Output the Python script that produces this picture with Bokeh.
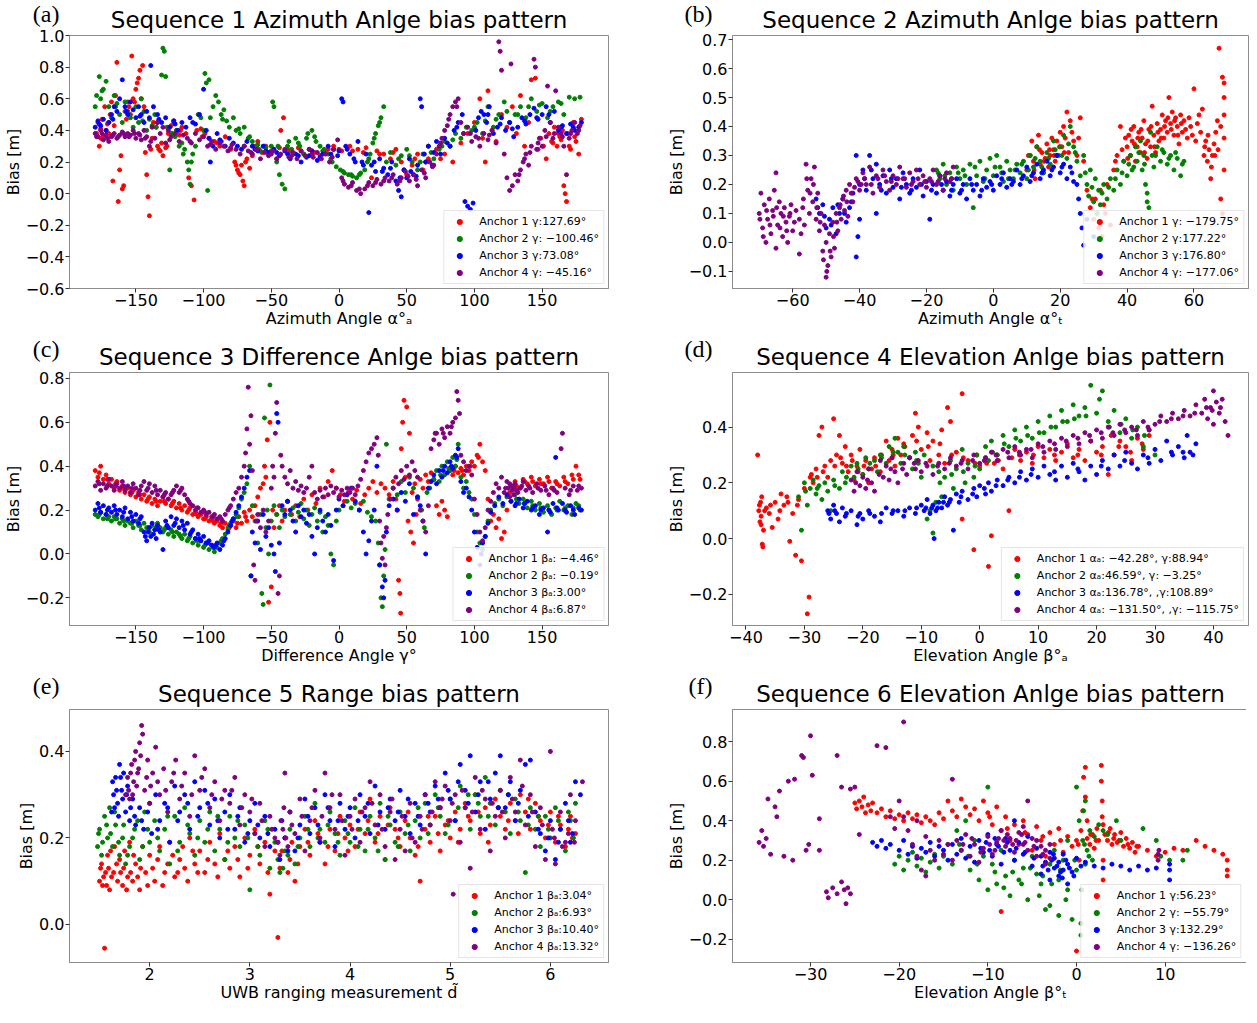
from bokeh.plotting import figure
from bokeh.layouts import gridplot
from bokeh.models import Range1d, Label, Legend, LegendItem, FixedTicker, CustomJSTickFormatter
from bokeh.embed import file_html
from bokeh.resources import INLINE

# ---------------- Panel (a): Sequence 1, azimuth angle ----------------
A_RED = [(-179,.38),(-178,.45),(-177,.30),(-176,.41),(-175,.47),(-174,.36),(-173,.55),(-172,.40),(-171,.44),(-170,.38),(-169,.50),(-168,.58),(-167,.08),(-166,.43),(-165,.62),(-164,.83),(-163,-.05),(-162,.15),(-161,.24),(-160,.03),(-159,.05),(-158,.52),(-157,.47),(-156,.58),(-155,.55),(-154,.50),(-153,.87),(-152,.60),(-151,.58),(-150,.66),(-149,.70),(-148,.73),(-147,.78),(-146,.60),(-145,.81),(-144,.55),(-143,.26),(-142,.12),(-141,-.02),(-140,-.14),(-139,.28),(-137,.45),(-135,.42),(-134,.30),(-132,.27),(-131,.32),(-130,.24),(-128,.29),(-126,.38),(-124,.43),(-122,.46),(-120,.40),(-118,.37),(-116,.42),(-113,.38),(-111,.10),(-109,.05),(-107,-.04),(-105,.40),(-102,.41),(-99,.38),(-96,.35),(-92,.33),(-88,.30),(-84,.36),(-80,.28),(-77,.20),(-75,.15),(-73,.12),(-72,.18),(-71,.08),(-70,.05),(-68,.22),(-66,.16),(-63,.30),(-60,.33),(-57,.26),(-54,.30),(-50,.27),(-46,.22),(-43,.40),(-41,.48),(-38,.28),(-34,.26),(-30,.29),(-26,.25),(-22,.28),(-18,.26),(-14,.24),(-8,.28),(-4,.30),(2,.27),(8,.30),(14,.28),(20,.29),(24,.10),(28,.27),(33,.25),(38,.22),(42,.28),(46,.20),(50,.12),(54,.18),(58,.25),(62,.15),(66,.22),(72,.28),(78,.25),(84,.20),(90,.32),(95,.38),(100,.45),(104,.60),(106,.35),(108,.20),(110,.65),(113,.40),(116,.33),(120,.50),(124,.42),(128,.55),(131,.38),(134,.62),(137,.30),(140,.45),(142,.72),(145,.73),(147,.28),(149,.35),(151,.30),(153,.22),(155,.38),(157,.33),(159,.42),(161,.30),(163,.36),(165,.40),(166,.05),(167,.0),(168,-.05),(169,.38),(171,.28),(173,.45),(175,.33),(177,.25),(179,.47),
         (-176,.35),(-170,.45),(-138,.35),(-133,.28),(-127,.30),(-123,.38),(-117,.40),(-101,.36),(-90,.32),(-76,.18),(-74,.13),(-69,.20),(-64,.24),(-59,.28),(-52,.25),(-44,.29),(-36,.27),(-28,.27),(-20,.27),(-10,.26),(0,.28),(10,.27),(18,.26),(30,.25),(40,.26),(48,.15),(56,.22),(64,.20),(75,.22),(158,.32),(162,.38),(164,.34),(170,.30),(174,.36)]
A_GREEN = [(-180,.55),(-179,.62),(-177,.74),(-176,.60),(-174,.66),(-172,.71),(-170,.55),(-168,.48),(-166,.62),(-164,.57),(-162,.50),(-160,.45),(-158,.58),(-156,.52),(-154,.48),(-152,.42),(-150,.55),(-148,.45),(-146,.60),(-144,.52),(-142,.40),(-140,.47),(-138,.43),(-136,.50),(-134,.45),(-131,.75),(-130,.92),(-129,.90),(-128,.74),(-127,.42),(-125,.15),(-124,.38),(-122,.45),(-120,.40),(-118,.30),(-116,.32),(-114,.28),(-112,.20),(-111,.15),(-110,.06),(-108,.25),(-106,.30),(-104,.50),(-102,.48),(-100,.40),(-99,.76),(-98,.70),(-97,.02),(-96,.72),(-95,.48),(-93,.55),(-91,.62),(-89,.58),(-87,.50),(-85,.53),(-83,.46),(-81,.42),(-78,.48),(-76,.40),(-73,.38),(-70,.42),(-67,.35),(-64,.33),(-61,.30),(-58,.27),(-55,.30),(-52,.25),(-49,.58),(-48,.55),(-46,.20),(-44,.12),(-42,.06),(-40,.03),(-38,.30),(-35,.28),(-32,.35),(-29,.30),(-26,.25),(-23,.38),(-20,.40),(-17,.33),(-14,.30),(-11,.28),(-8,.25),(-5,.20),(-2,.17),(1,.15),(4,.13),(7,.12),(10,.11),(13,.10),(16,.13),(19,.15),(21,.20),(23,.25),(25,.32),(27,.38),(29,.43),(31,.48),(33,.55),(35,.20),(38,.26),(42,.18),(46,.24),(50,.28),(54,.20),(58,.15),(62,.25),(66,.30),(70,.22),(74,.28),(78,.33),(82,.30),(86,.38),(90,.35),(94,.42),(98,.40),(102,.45),(106,.38),(110,.55),(114,.42),(118,.50),(122,.58),(126,.45),(130,.50),(134,.55),(138,.48),(142,.60),(146,.52),(150,.57),(154,.48),(158,.55),(162,.58),(166,.50),(170,.61),(174,.60),(178,.61),
           (-175,.65),(-165,.55),(-155,.50),(-145,.46),(-135,.42),(-121,.36),(-115,.25),(-109,.20),(-86,.47),(-74,.41),(-66,.36),(-60,.31),(-54,.29),(-50,.30),(-45,.30),(-37,.33),(-30,.32),(-24,.35),(-18,.36),(-12,.27),(-6,.22),(3,.14),(9,.12),(15,.12),(22,.22),(26,.35),(30,.45),(44,.22),(52,.24),(60,.20),(68,.26),(76,.30),(84,.34),(92,.38),(100,.42),(108,.46),(116,.47),(124,.52),(132,.50),(140,.55),(148,.56),(156,.52),(164,.57)]
A_BLUE = [(-180,.42),(-178,.46),(-176,.43),(-174,.47),(-172,.40),(-170,.45),(-168,.50),(-166,.55),(-164,.52),(-162,.60),(-160,.72),(-158,.55),(-156,.50),(-154,.58),(-152,.53),(-150,.48),(-148,.55),(-146,.50),(-144,.45),(-142,.52),(-140,.48),(-139,.81),(-137,.55),(-134,.50),(-131,.45),(-128,.48),(-125,.42),(-122,.46),(-119,.40),(-116,.45),(-113,.42),(-110,.48),(-106,.44),(-103,.50),(-100,.66),(-98,.40),(-96,.35),(-95,.20),(-93,.30),(-90,.38),(-87,.33),(-84,.30),(-81,.35),(-78,.32),(-75,.30),(-72,.28),(-68,.33),(-64,.30),(-60,.27),(-56,.30),(-52,.26),(-48,.28),(-44,.24),(-40,.27),(-36,.22),(-32,.25),(-28,.20),(-24,.23),(-20,.27),(-16,.21),(-12,.25),(-8,.30),(-4,.28),(-1,.24),(2,.60),(3,.58),(5,.30),(8,.25),(11,.22),(14,.33),(17,.20),(20,.25),(22,-.12),(24,.18),(27,.14),(30,.22),(33,.16),(36,.12),(39,.20),(42,.08),(44,.02),(46,-.02),(48,.15),(50,.10),(52,.22),(55,.12),(58,.18),(60,.60),(61,.55),(63,.25),(66,.30),(69,.18),(72,.33),(75,.25),(78,.35),(82,.30),(85,.40),(88,.45),(91,.50),(93,-.05),(95,-.08),(97,-.10),(99,-.06),(101,.40),(103,.48),(105,.52),(107,.50),(109,.45),(111,.55),(114,.38),(117,.42),(120,.48),(123,.40),(126,.45),(129,.36),(132,.42),(135,.48),(138,.44),(141,.50),(144,.54),(147,.47),(150,.50),(153,.55),(156,.45),(159,.52),(162,.40),(165,.43),(168,.38),(171,.44),(174,.40),(177,.42),(179,.45),
          (-177,.44),(-167,.47),(-157,.52),(-147,.49),(-133,.47),(-121,.44),(-108,.45),(-88,.34),(-70,.30),(-62,.28),(-54,.27),(-46,.26),(-38,.25),(-30,.24),(-22,.24),(-14,.23),(-6,.25),(0,.27),(6,.28),(12,.20),(18,.18),(26,.20),(32,.14),(38,.16),(45,.10),(53,.14),(57,.11),(64,.20),(70,.26),(80,.32),(87,.42),(110,.50),(119,.44),(128,.41),(137,.46),(146,.48),(155,.50),(164,.42),(173,.42)]
A_PURPLE = [(-180,.38),(-178,.36),(-176,.40),(-174,.34),(-172,.37),(-170,.33),(-168,.36),(-166,.38),(-164,.35),(-162,.37),(-160,.39),(-158,.36),(-156,.38),(-154,.37),(-152,.40),(-150,.35),(-148,.38),(-146,.34),(-144,.40),(-142,.36),(-140,.30),(-138,.42),(-136,.35),(-134,.45),(-132,.38),(-130,.42),(-128,.32),(-126,.40),(-124,.36),(-121,.38),(-118,.33),(-115,.37),(-112,.35),(-109,.32),(-106,.38),(-103,.34),(-100,.36),(-97,.30),(-94,.33),(-91,.28),(-88,.32),(-85,.30),(-82,.27),(-79,.31),(-76,.28),(-73,.25),(-70,.30),(-67,.27),(-64,.25),(-61,.28),(-58,.22),(-55,.26),(-52,.24),(-49,.27),(-46,.22),(-43,.25),(-40,.28),(-37,.23),(-34,.26),(-31,.22),(-28,.27),(-25,.24),(-22,.28),(-19,.23),(-16,.26),(-13,.22),(-10,.25),(-7,.20),(-4,.28),(-1,.34),(2,.10),(4,.06),(7,.04),(10,.07),(13,.02),(16,.0),(19,.03),(22,.07),(25,.05),(28,.09),(31,.06),(34,.10),(37,.08),(40,.12),(43,.06),(46,.10),(49,.14),(52,.08),(55,.12),(58,.05),(61,.15),(64,.10),(67,.20),(70,.18),(72,.25),(74,.30),(76,.35),(78,.40),(80,.43),(82,.50),(84,.55),(86,.58),(88,.60),(90,.45),(92,.38),(95,.42),(98,.33),(101,.36),(104,.30),(107,.38),(110,.34),(113,.40),(116,.32),(118,.96),(119,.90),(120,.78),(122,.25),(124,.10),(126,.02),(127,.82),(128,.05),(130,.12),(132,.08),(134,.15),(136,.20),(138,.25),(140,.18),(142,.30),(144,.85),(145,.80),(146,.28),(148,.35),(150,.30),(152,.40),(154,.68),(156,.45),(158,.35),(160,.65),(162,.42),(164,.38),(166,.30),(168,.12),(170,.35),(172,.40),(174,.45),(176,.38),(178,.43),
            (-179,.36),(-175,.38),(-171,.35),(-167,.37),(-163,.36),(-159,.38),(-155,.36),(-151,.38),(-147,.37),(-143,.35),(-139,.33),(-125,.34),(-110,.33),(-95,.31),(-80,.29),(-65,.26),(-50,.25),(-35,.24),(-20,.25),(-5,.23),(3,.08),(9,.05),(15,.03),(21,.05),(27,.07),(33,.08),(39,.10),(45,.08),(51,.11),(57,.09),(63,.13),(69,.17),(75,.32),(81,.47),(87,.55),(97,.38),(103,.35),(111,.37),(133,.12),(137,.22),(141,.26),(147,.32),(153,.36),(159,.38),(165,.36),(171,.38),(177,.40)]
A_LABELS = ["Anchor 1 γ:127.69°", "Anchor 2 γ: −100.46°", "Anchor 3 γ:73.08°", "Anchor 4 γ: −45.16°"]
A_XTICKS = [-150, -100, -50, 0, 50, 100, 150]
A_YTICKS = [-0.6, -0.4, -0.2, 0.0, 0.2, 0.4, 0.6, 0.8, 1.0]

# ---------------- Panel (b): Sequence 2, azimuth angle T ----------------
B_RED = [(10,.25),(11,.30),(11.5,.35),(12,.28),(12.5,.22),(13,.33),(13.5,.37),(14,.27),(14.5,.31),(15,.24),(15.5,.29),(16,.34),(16.5,.26),(17,.30),(17.5,.36),(18,.32),(18.5,.28),(19,.35),(19.5,.30),(20,.38),(20.5,.33),(21,.40),(21.5,.36),(22,.45),(22.5,.31),(23,.42),(24,.35),(25,.30),(26,.43),(27,.28),(28,.18),(29,.12),(30,.08),(30.5,.15),(31,.10),(31.5,.05),(32,.18),(32.5,.02),(33,.13),(34,.20),(35,.06),(36,.25),(37,.30),(38,.40),(39,.28),(40,.33),(40.5,.37),(41,.30),(41.5,.35),(42,.40),(42.5,.28),(43,.33),(43.5,.38),(44,.31),(44.5,.36),(45,.42),(45.5,.34),(46,.29),(46.5,.39),(47,.33),(47.5,.47),(48,.37),(48.5,.31),(49,.41),(49.5,.35),(50,.39),(50.5,.44),(51,.36),(51.5,.42),(52,.38),(52.5,.50),(53,.41),(53.5,.45),(54,.37),(54.5,.43),(55,.40),(55.5,.34),(56,.44),(56.5,.38),(57,.42),(58,.36),(58.5,.43),(59,.40),(60,.53),(60.5,.35),(61,.41),(62,.38),(62.5,.46),(63,.30),(63.5,.35),(64,.28),(64.5,.32),(65,.22),(65.5,.30),(66,.34),(66.5,.38),(67,.42),(67.5,.67),(68,.40),(68,.15),(68.5,.57),(68.5,.10),(69,.55),(69,.50),(69,.36),(69,.25),(69,.44),
         (10.5,.30),(12.2,.25),(13.8,.32),(15.2,.28),(16.8,.32),(18.2,.30),(19.8,.33),(21.2,.31),(23.5,.38),(25.5,.36),(29.5,.15),(33.5,.10),(36.5,.28),(38.5,.32),(39.5,.36),(40.2,.29),(41.2,.39),(42.2,.34),(43.2,.36),(44.2,.39),(45.2,.31),(46.2,.35),(47.2,.40),(48.2,.33),(49.2,.38),(50.2,.36),(51.2,.40),(52.2,.43),(53.2,.39),(54.2,.42),(55.2,.37),(56.2,.41),(57.5,.39),(59.5,.37),(61.5,.44),(63.2,.33),(64.2,.37),(65.2,.26),(66.2,.30),(67.2,.32)]
B_GREEN = [(-17,.25),(-16,.22),(-15,.27),(-14,.20),(-13,.24),(-12,.18),(-11,.26),(-10,.22),(-9,.25),(-8,.20),(-7,.27),(-6,.12),(-5,.23),(-4,.28),(-3,.21),(-2,.25),(-1,.29),(0,.23),(1,.30),(2,.26),(3,.21),(4,.28),(5,.25),(6,.22),(7,.27),(8,.24),(9,.28),(10,.22),(11,.30),(12,.26),(13,.33),(14,.28),(15,.24),(16,.31),(17,.27),(18,.35),(19,.30),(20,.33),(21,.37),(22,.29),(23,.40),(24,.33),(25,.28),(26,.23),(27,.30),(28,.20),(28.5,.16),(29,.25),(30,.14),(30.5,.22),(31,.10),(31.5,.18),(32,.13),(33,.20),(34,.15),(35,.22),(36,.18),(37,.25),(38,.20),(39,.28),(40,.23),(41,.30),(42,.26),(42.5,.33),(43,.28),(44,.35),(44.5,.25),(45,.30),(45.5,.20),(46,.14),(46,.17),(46.5,.12),(47,.38),(47.5,.30),(48,.26),(49,.33),(50,.28),(51,.31),(52,.27),(53,.30),(54,.25),(55,.29),(56,.23),(57,.28),
           (-16.5,.24),(-14.5,.23),(-12.5,.22),(-10.5,.24),(-8.5,.23),(-5.5,.26),(-2.5,.22),(0.5,.26),(2.5,.24),(4.5,.22),(6.5,.25),(8.5,.27),(10.5,.25),(12.5,.29),(14.5,.26),(16.5,.29),(18.5,.32),(20.5,.30),(22.5,.34),(24.5,.31),(27.5,.24),(29.5,.19),(32.5,.17),(34.5,.19),(36.5,.22),(38.5,.24),(40.5,.27),(41.5,.25),(43.5,.31),(45.2,.27),(48.5,.30),(50.5,.32),(52.5,.29),(54.5,.31),(56.5,.27)]
B_BLUE = [(-53,.15),(-52,.10),(-51,.13),(-50,.05),(-49,.08),(-48,.12),(-47,.03),(-46,.10),(-45,.15),(-44,.07),(-43,.12),(-42,.17),(-41,-.05),(-41,.30),(-40.5,.02),(-40,.08),(-40,.20),(-39,.25),(-38,.18),(-37,.30),(-36,.22),(-35,.10),(-35,.27),(-34,.20),(-33,.23),(-32,.17),(-31,.25),(-30,.19),(-29,.22),(-28,.15),(-27,.24),(-26,.20),(-25,.17),(-24,.22),(-23,.19),(-22,.25),(-21,.16),(-20,.21),(-19,.08),(-18,.20),(-17,.17),(-16,.23),(-15,.18),(-14,.21),(-13,.16),(-12,.20),(-11,.22),(-10,.17),(-9,.20),(-8,.15),(-7,.22),(-6,.18),(-5,.20),(-4,.16),(-3,.22),(-2,.19),(-1,.21),(0,.18),(1,.23),(2,.20),(3,.24),(4,.19),(5,.22),(6,.21),(7,.25),(8,.20),(9,.23),(10,.26),(11,.21),(12,.24),(13,.27),(14,.22),(15,.25),(16,.28),(17,.23),(18,.26),(19,.30),(20,.24),(21,.27),(22,.22),(23,.26),(24,.21),(25,.20),(25.5,.15),(26,.10),(26.5,.05),(27,-.01),(28,.08),(30,.02),
          (-52.5,.12),(-50.5,.09),(-48.5,.06),(-46.5,.13),(-44.5,.10),(-42.5,.14),(-38.5,.22),(-36.5,.25),(-33.5,.18),(-30.5,.22),(-27.5,.19),(-24.5,.18),(-21.5,.20),(-18.5,.18),(-15.5,.20),(-12.5,.18),(-9.5,.18),(-6.5,.20),(-3.5,.18),(-0.5,.20),(2.5,.22),(5.5,.20),(8.5,.22),(11.5,.23),(14.5,.24),(17.5,.25),(20.5,.26),(23.5,.24)]
B_PURPLE = [(-70,.10),(-69.5,.17),(-69,.05),(-68.5,.13),(-68,.0),(-67.5,.08),(-67,.15),(-66.5,.03),(-66,.11),(-65.5,.18),(-65,.24),(-65,-.02),(-64.5,.06),(-64,.14),(-63.5,.10),(-63,.02),(-62.5,.12),(-62,.07),(-61.5,.0),(-61,.09),(-60.5,.13),(-60,.04),(-59,.11),(-58,-.04),(-58,.08),(-57,.12),(-56.5,.06),(-56,.27),(-55.5,.18),(-55,.10),(-54.5,.22),(-54,.14),(-53.5,.26),(-53,.08),(-52.5,.17),(-52,.04),(-51.5,.10),(-51,-.03),(-50.5,.06),(-50,-.12),(-50,.0),(-49.5,-.08),(-49,.03),(-48.5,-.05),(-48,.07),(-47.5,-.02),(-47,.10),(-46.5,.04),(-46,.12),(-45.5,.08),(-45,.15),(-44.5,.11),(-44,.18),(-43.5,.09),(-43,.20),(-42,.14),(-41,.22),(-40,.18),(-39,.24),(-38,.20),(-37,.26),(-36,.17),(-35,.23),(-34,.19),(-33,.25),(-32,.21),(-31,.18),(-30,.23),(-29,.20),(-28,.26),(-27,.22),(-26,.19),(-25,.24),(-24,.21),(-23,.25),(-22,.20),(-21,.23),(-20,.19),(-19,.22),(-18,.25),(-17,.20),(-16,.23),(-15,.18),(-14,.24),(-13,.21),(-12,.26),
            (-69.8,.08),(-68.8,.02),(-67.8,.11),(-66.8,.06),(-65.8,.09),(-64.8,.12),(-63.8,.05),(-62.8,.09),(-61.8,.04),(-60.8,.10),(-59.5,.07),(-57.5,.03),(-56.8,.15),(-55.8,.22),(-54.8,.17),(-53.8,.20),(-52.8,.12),(-51.8,.07),(-50.8,-.06),(-49.8,-.10),(-48.8,-.03),(-47.8,.02),(-46.8,.07),(-45.8,.13),(-44.8,.16),(-43.8,.14),(-42.5,.17),(-41.5,.19),(-40.5,.21),(-39.5,.20),(-38.5,.22),(-36.5,.20),(-34.5,.22),(-32.5,.23),(-30.5,.21),(-28.5,.22),(-26.5,.22),(-24.5,.20),(-22.5,.22),(-20.5,.21),(-18.5,.21),(-16.5,.21),(-14.5,.22),(-12.5,.22)]
B_LABELS = ["Anchor 1 γ: −179.75°", "Anchor 2 γ:177.22°", "Anchor 3 γ:176.80°", "Anchor 4 γ: −177.06°"]
B_XTICKS = [-60, -40, -20, 0, 20, 40, 60]
B_YTICKS = [-0.1, 0.0, 0.1, 0.2, 0.3, 0.4, 0.5, 0.6, 0.7]

# ---------------- Panel (c): Sequence 3, difference angle ----------------
C_RED = [(-180,.38),(-178,.35),(-176,.40),(-174,.34),(-172,.36),(-170,.32),(-168,.34),(-166,.30),(-164,.33),(-162,.29),(-160,.31),(-158,.28),(-156,.30),(-154,.27),(-152,.29),(-150,.26),(-148,.28),(-146,.25),(-144,.27),(-142,.24),(-140,.26),(-138,.23),(-136,.25),(-134,.22),(-132,.24),(-130,.26),(-128,.23),(-126,.25),(-124,.22),(-122,.24),(-120,.21),(-118,.23),(-116,.20),(-114,.22),(-112,.19),(-110,.21),(-108,.18),(-106,.19),(-104,.17),(-102,.18),(-100,.16),(-98,.17),(-96,.15),(-94,.16),(-92,.14),(-90,.15),(-88,.13),(-86,.12),(-84,.14),(-82,.11),(-80,.13),(-78,.15),(-76,.12),(-74,.17),(-72,.14),(-70,.19),(-68,.15),(-66,.20),(-64,.17),(-62,.22),(-60,.26),(-58,.30),(-56,.32),(-55,.40),(-54,.35),(-53,.52),(-52,-.22),(-51,.60),(-50,-.15),(-49,.20),(-48,.12),(-46,.18),(-44,.22),(-42,.15),(-40,.20),(-38,.24),(-35,.18),(-32,.22),(-29,.17),(-26,.25),(-23,.20),(-20,.27),(-17,.23),(-14,.30),(-11,.26),(-8,.33),(-5,.38),(-2,.30),(1,.27),(4,.24),(7,.28),(10,.25),(13,.29),(16,.23),(19,.27),(22,.30),(25,.33),(28,.28),(31,.32),(34,.30),(37,.27),(40,.33),(42,.25),(43,.20),(44,-.12),(45,-.18),(45.5,-.27),(46,.48),(47,.60),(48,.70),(49,.35),(50,.67),(51,.15),(52,.55),(53,.10),(54,.28),(55,.05),(56,.32),(57,.18),(58,.25),(60,.34),(62,.30),(64,.36),(66,.33),(68,.37),(70,.34),(72,.22),(74,.18),(76,.24),(78,.20),(80,.17),(82,.38),(84,.36),(86,.40),(88,.37),(90,.39),(92,.36),(94,.40),(96,.38),(98,.42),(100,.40),(102,.45),(104,.50),(106,.42),(108,.38),(110,.25),(112,.15),(114,.18),(116,.12),(118,.16),(120,.07),(122,.10),(124,.20),(126,.28),(128,.31),(130,.33),(133,.30),(136,.34),(139,.32),(142,.35),(145,.31),(148,.34),(151,.32),(154,.35),(157,.30),(160,.33),(163,.31),(166,.35),(169,.32),(172,.36),(175,.40),(178,.34),
         (-177,.37),(-171,.34),(-165,.32),(-159,.30),(-153,.28),(-147,.27),(-141,.25),(-135,.24),(-129,.24),(-123,.23),(-117,.21),(-111,.20),(-105,.18),(-99,.16),(-93,.15),(-87,.14),(-81,.12),(-75,.14),(-69,.17),(131,.31),(137,.33),(143,.33),(149,.32),(155,.33),(161,.32),(167,.33),(173,.34),(177,.36),(85,.38),(91,.38),(97,.40),(103,.44)]
C_GREEN = [(-180,.18),(-178,.17),(-176,.19),(-174,.16),(-172,.18),(-170,.17),(-168,.15),(-166,.17),(-164,.16),(-162,.14),(-160,.16),(-158,.13),(-156,.15),(-154,.14),(-152,.12),(-150,.15),(-148,.13),(-146,.11),(-144,.14),(-142,.12),(-140,.10),(-138,.13),(-136,.11),(-134,.14),(-132,.12),(-130,.10),(-128,.12),(-126,.09),(-124,.11),(-122,.08),(-120,.10),(-118,.09),(-116,.07),(-114,.09),(-112,.06),(-110,.08),(-108,.05),(-106,.07),(-104,.04),(-102,.06),(-100,.03),(-98,.05),(-96,.02),(-94,.04),(-92,.01),(-90,.03),(-88,.05),(-86,.07),(-84,.09),(-82,.12),(-80,.14),(-78,.16),(-76,.18),(-74,.21),(-72,.25),(-70,.28),(-68,.32),(-66,.40),(-65,-.10),(-64,.22),(-62,.15),(-60,.05),(-58,.18),(-57,-.18),(-56,-.23),(-55,.62),(-54,.12),(-53,.20),(-52,.0),(-51,.77),(-50,.15),(-48,.22),(-46,.18),(-44,.12),(-42,.20),(-40,.17),(-38,.24),(-36,.18),(-34,.21),(-32,.15),(-30,.19),(-28,.23),(-26,.16),(-24,.20),(-22,.13),(-20,.18),(-18,.21),(-16,.15),(-14,.19),(-12,.10),(-10,.17),(-8,.13),(-6,.0),(-4,-.05),(-2,.15),(0,.20),(3,.22),(6,.24),(9,.21),(12,.23),(15,.20),(18,.24),(21,.19),(24,.17),(27,.15),(29,.05),(30,-.05),(31,-.20),(32,-.24),(33,-.10),(34,.02),(35,.50),(37,.25),(40,.30),(43,.27),(46,.33),(49,.28),(52,.35),(55,.30),(58,.26),(61,.20),(63,.12),(65,.28),(67,.30),(70,.34),(72,.38),(74,.33),(76,.40),(78,.36),(80,.42),(82,.38),(84,.44),(86,.40),(88,.50),(90,.35),(92,.30),(94,.33),(96,.28),(98,.25),(100,.18),(102,.10),(104,.05),(106,.02),(108,.08),(110,.15),(112,.20),(115,.23),(118,.25),(121,.22),(124,.26),(127,.24),(130,.27),(133,.23),(136,.25),(139,.21),(142,.24),(145,.20),(148,.23),(151,.19),(154,.22),(157,.18),(160,.21),(163,.24),(166,.20),(169,.22),(172,.18),(175,.23),(178,.20),
           (-177,.18),(-171,.16),(-165,.16),(-159,.15),(-153,.14),(-147,.13),(-141,.12),(-135,.12),(-129,.11),(-123,.10),(-117,.08),(-111,.07),(-105,.06),(-99,.04),(-93,.03),(-87,.06),(-81,.13),(-75,.17),(131,.25),(137,.23),(143,.22),(149,.21),(155,.20),(161,.20),(167,.21),(173,.21),(177,.22),(75,.36),(81,.39),(87,.43)]
C_BLUE = [(-180,.20),(-178,.23),(-176,.19),(-174,.22),(-172,.18),(-170,.21),(-168,.19),(-166,.22),(-164,.18),(-162,.20),(-160,.17),(-158,.21),(-156,.16),(-154,.19),(-152,.15),(-150,.18),(-148,.14),(-146,.17),(-144,.10),(-142,.06),(-140,.12),(-139,.08),(-138,.14),(-137,.09),(-136,.11),(-135,.07),(-134,.13),(-132,.10),(-130,.02),(-128,.15),(-126,.12),(-124,.17),(-122,.13),(-120,.16),(-118,.12),(-116,.15),(-114,.11),(-112,.14),(-110,.09),(-108,.11),(-106,.07),(-104,.09),(-102,.06),(-100,.08),(-98,.05),(-96,.06),(-94,.04),(-92,.03),(-90,.05),(-88,.02),(-86,.04),(-84,.07),(-82,.10),(-80,.13),(-78,.16),(-76,.19),(-74,.22),(-72,.26),(-70,.30),(-68,.35),(-66,.38),(-65,-.10),(-64,.10),(-62,.05),(-60,.15),(-58,.02),(-56,.18),(-54,.08),(-52,.12),(-50,.04),(-48,.0),(-47,-.08),(-46,.64),(-45,.60),(-44,.05),(-42,.22),(-40,.18),(-38,.24),(-36,.20),(-34,.15),(-32,.10),(-30,.22),(-28,.17),(-26,.20),(-24,.14),(-22,.18),(-20,.08),(-18,.0),(-16,.12),(-14,.20),(-12,.15),(-10,.10),(-8,.18),(-6,.13),(-4,-.03),(-2,.20),(0,.25),(3,.22),(6,.27),(9,.30),(12,.24),(15,.20),(18,.10),(20,.0),(22,.06),(24,.15),(26,.20),(28,.40),(30,-.05),(32,-.15),(33,-.20),(34,-.12),(35,.10),(37,.22),(40,.25),(43,.20),(46,.28),(49,.24),(52,.32),(55,.18),(58,.26),(60,.22),(62,.15),(64,.0),(66,.30),(68,.33),(70,.36),(72,.32),(74,.38),(76,.35),(78,.40),(80,.37),(82,.42),(84,.39),(86,.45),(88,.48),(90,.33),(92,.28),(94,.30),(96,.26),(98,.20),(100,.10),(102,.03),(104,-.05),(105,.0),(106,.05),(108,.08),(110,.14),(112,.19),(115,.22),(118,.26),(121,.23),(124,.27),(127,.24),(130,.22),(133,.25),(136,.21),(139,.24),(142,.20),(145,.22),(148,.18),(151,.21),(154,.10),(156,.19),(158,.23),(160,.44),(162,.20),(165,.23),(168,.19),(171,.22),(174,.18),(177,.21),(179,.20),
          (-177,.21),(-171,.20),(-165,.20),(-159,.19),(-153,.17),(-147,.16),(-143,.08),(-141,.10),(-133,.11),(-127,.13),(-121,.14),(-115,.13),(-109,.10),(-103,.07),(-97,.05),(-91,.04),(-85,.06),(-79,.15),(131,.23),(137,.23),(143,.21),(149,.20),(155,.20),(161,.21),(167,.20),(173,.20),(77,.38),(83,.40),(87,.44)]
C_PURPLE = [(-180,.31),(-178,.33),(-176,.29),(-174,.32),(-172,.30),(-170,.34),(-168,.31),(-166,.29),(-164,.32),(-162,.30),(-160,.33),(-158,.29),(-156,.31),(-154,.28),(-152,.32),(-150,.30),(-148,.27),(-146,.31),(-144,.33),(-142,.29),(-140,.32),(-138,.28),(-136,.31),(-134,.27),(-132,.29),(-130,.26),(-128,.28),(-126,.25),(-124,.27),(-122,.29),(-120,.31),(-118,.28),(-116,.30),(-114,.27),(-112,.25),(-110,.23),(-108,.22),(-106,.20),(-104,.21),(-102,.19),(-100,.20),(-98,.18),(-96,.19),(-94,.17),(-92,.18),(-90,.16),(-88,.17),(-86,.15),(-84,.18),(-82,.20),(-80,.22),(-78,.25),(-76,.28),(-74,.30),(-72,.35),(-70,.40),(-69,.46),(-68,.57),(-67,.76),(-66,.50),(-65,.63),(-64,.38),(-63,-.05),(-62,-.12),(-61,.15),(-60,.18),(-58,.12),(-56,.20),(-54,.10),(-52,.15),(-50,.30),(-49,.40),(-48,.35),(-47,.55),(-46,.69),(-45,-.18),(-44,-.10),(-43,.45),(-42,.40),(-40,.35),(-38,.32),(-36,.38),(-34,.30),(-32,.33),(-30,.29),(-28,.31),(-26,.28),(-24,.30),(-22,.35),(-20,.40),(-18,.28),(-16,.25),(-14,.29),(-12,.26),(-10,.30),(-8,.27),(-6,.31),(-4,.28),(-2,.30),(0,.26),(2,.29),(4,.27),(6,.30),(8,.28),(10,.30),(12,.27),(14,.31),(16,.34),(18,.38),(20,.42),(22,.46),(24,.48),(26,.50),(28,.53),(29,.45),(30,.15),(31,.05),(32,-.02),(33,.08),(34,-.05),(35,.12),(36,.18),(38,.25),(40,.30),(42,.35),(44,.32),(46,.38),(48,.34),(50,.40),(52,.36),(54,.42),(56,.38),(58,.35),(60,.20),(62,.15),(64,.10),(66,.22),(68,.48),(70,.52),(72,.55),(74,.50),(76,.57),(78,.53),(80,.58),(82,.55),(84,.60),(86,.62),(87,.74),(88,.70),(89,.64),(90,.45),(92,.42),(94,.38),(96,.40),(98,.36),(100,.25),(102,.18),(104,.10),(106,.06),(108,.12),(110,.20),(112,.24),(114,.28),(116,.32),(118,.30),(120,.35),(122,.28),(124,.33),(125,.30),(126,.26),(127,.31),(128,.29),(129,.27),(130,.32),(132,.28),(134,.30),(136,.33),(138,.29),(140,.31),(143,.28),(146,.32),(149,.29),(152,.31),(155,.27),(158,.30),(161,.28),(164,.48),(165,.55),(167,.30),(170,.27),(173,.31),(176,.29),(179,.30),
            (-177,.32),(-171,.31),(-165,.31),(-159,.31),(-153,.30),(-147,.29),(-141,.30),(-135,.29),(-129,.27),(-123,.28),(-117,.29),(-111,.24),(-105,.21),(-99,.19),(-93,.17),(-87,.16),(-81,.21),(123,.30),(126,.32),(129,.30),(131,.29),(135,.31),(141,.30),(147,.30),(153,.29),(159,.29),(171,.29),(177,.31),(71,.55),(77,.55),(83,.58)]
C_LABELS = ["Anchor 1 βₐ: −4.46°", "Anchor 2 βₐ: −0.19°", "Anchor 3 βₐ:3.00°", "Anchor 4 βₐ:6.87°"]
C_XTICKS = [-150, -100, -50, 0, 50, 100, 150]
C_YTICKS = [-0.2, 0.0, 0.2, 0.4, 0.6, 0.8]

# ---------------- Panel (d): Sequence 4, elevation angle ----------------
D_RED = [(-38,.30),(-37.8,.10),(-37.6,.06),(-37.5,.13),(-37.4,.08),(-37.3,.15),(-37.2,-.02),(-37.1,-.03),(-37,.03),(-36.5,.11),(-36,.09),(-35.5,.04),(-35,.13),(-34.5,.07),(-34,.16),(-33.5,.12),(-33,.15),(-32.5,-.01),(-32,.09),(-31.5,-.06),(-31,.14),(-30.5,-.08),(-30,.18),(-29.5,-.27),(-29.2,-.21),(-29,.22),(-28.5,.20),(-28,.25),(-27.5,.37),(-27,.40),(-26.5,.26),(-26,.22),(-25.5,.28),(-25,.43),(-24.5,.30),(-24,.37),(-23.5,.27),(-23,.33),(-22.5,.24),(-22,.30),(-21.5,.21),(-21,.26),(-20.5,.32),(-20,.23),(-19.5,.28),(-19,.20),(-18.5,.25),(-18,.29),(-17,.24),(-16,.35),(-15.5,.28),(-15,.32),(-14.5,.26),(-14,.36),(-13.5,.30),(-13,.34),(-12,.29),(-11.5,.37),(-11,.45),(-10.5,.40),(-10,.32),(-9,.38),(-8.5,.28),(-8,.35),(-7,.30),(-6.5,.39),(-6,.27),(-5.5,.47),(-5,.42),(-4,.31),(-3,.52),(-3,.07),(-2,.28),(-1,-.04),(-0.5,.30),(0,.26),(1,.29),(1.5,-.10),(2,.01),(2.5,.27),(3,.30),(4,.25),(5,.10),(5.5,.29),(6,.32),(7,.28),(8,.31),(9,.27),(10,.33),(11,.29),(12,.32),(13,.28),(14,.31),(15,.34),(16,.29),(17,.32),(18,.28),(19,.35),(20,.31),(21,.33),(22,.23),(22.5,.37),(23,.30),(24,.35),(25,.33),(26,.28),(27,.36),(28,.32),(29,.37),
         (-37.7,.12),(-37.4,.05),(-36.8,.10),(-35.8,.12),(-34.2,.10),(-32.8,.13),(-31.2,.12),(-28.8,.23),(-27.8,.22),(-26.8,.24),(-24.8,.26),(-23.8,.29),(-22.8,.26),(-21.8,.28),(-20.8,.24),(-19.8,.26),(-17.8,.26),(-16.8,.30),(-14.8,.30),(-12.8,.33),(-10.8,.35),(-8.8,.33),(-6.8,.34),(-4.8,.30),(-2.8,.29),(-0.8,.27),(1.2,.27),(3.2,.28),(6.8,.30),(9.2,.30),(12.8,.30),(16.8,.30),(20.8,.30),(23.8,.33),(25.8,.31),(27.8,.34)]
D_GREEN = [(-31,.15),(-30.5,.03),(-30,.20),(-29.5,.12),(-29,.18),(-28.5,.21),(-28,.16),(-27.5,.19),(-27,.14),(-26.5,.20),(-26,.17),(-25.5,.10),(-25,.21),(-24,.18),(-23.5,.24),(-23,.20),(-22,.26),(-21.5,.22),(-21,.27),(-20,.23),(-19.5,.29),(-19,.25),(-18,.28),(-17.5,.24),(-17,.30),(-16,.27),(-15.5,.33),(-15,.29),(-14.5,.36),(-14,.31),(-13.5,.27),(-13,.33),(-12,.29),(-11.5,.25),(-11,.31),(-10.5,.27),(-10,.22),(-9.5,.30),(-9,.07),(-8.5,.10),(-8,.02),(-8,.26),(-7.5,.13),(-7,.24),(-6.5,.15),(-6,.22),(-5,.28),(-4.5,.18),(-4,.25),(-3,.32),(-2.5,.20),(-2,.27),(-1,.22),(-0.5,.30),(0,.25),(1,.33),(1.5,.28),(2,.35),(3,.30),(4,.37),(5,.33),(6,.39),(7,.35),(8,.40),(9,.36),(10,.42),(11,.38),(12,.44),(13,.40),(14,.46),(15,.42),(16,.48),(17,.44),(18,.47),(19,.55),(20,.45),(20.5,.50),(21,.53),(22,.42),(23,.46),(24,.38),(25,.43),(26,.36),(27,.40),(28,.33),(29,.39),(30,.30),
           (-29.8,.17),(-27.8,.18),(-24.8,.19),(-22.8,.22),(-20.8,.25),(-18.8,.27),(-16.8,.29),(-14.8,.31),(-12.8,.30),(-10.8,.28),(-6.8,.20),(-4.8,.23),(-2.8,.24),(-0.8,.26),(2.2,.31),(4.2,.34),(6.2,.36),(8.2,.37),(10.2,.38),(12.2,.40),(14.2,.42),(16.2,.43),(18.2,.44),(22.2,.40),(24.2,.41),(26.2,.39),(28.2,.37)]
D_BLUE = [(-26,.10),(-25.5,.07),(-25,.12),(-24.5,.09),(-24,.06),(-23.5,.11),(-23,.08),(-22,.10),(-21,.05),(-20.5,.09),(-20,.07),(-19,.10),(-18,.08),(-17,.06),(-16,.11),(-15,.09),(-14,.10),(-13,.08),(-12,.11),(-11,.09),(-10,.12),(-9.5,.10),(-9,.14),(-8.5,.09),(-8,.12),(-7.8,.0),(-7.5,.10),(-7,.13),(-6.5,.11),(-6,.15),(-5.5,.12),(-5,.14),(-4.5,.03),(-4,.16),(-3.5,.13),(-3,.17),(-2,.14),(-1,.18),(-0.5,.15),(0,.19),(1,.16),(1.5,.20),(2,.17),(3,.21),(4,.19),(5,.22),(6,.20),(7,.24),(8,.21),(9,.25),(10,.22),(11,.26),(12,.23),(13,.21),(14,.26),(15,.22),(16,.27),(17,.24),(18,.21),(19,.26),(20,.23),(21,.28),(22,.25),(23,.30),(24,.26),(25,.31),(26,.27),(27,.25),(28,.30),(29,.27),(30,.32),(31,.28),(32,.35),(33,.30),(34,.33),(35,.29),(35.5,.37),(36,.31),(37,.34),
          (-25.8,.09),(-24.8,.10),(-22.8,.09),(-20.8,.08),(-18.8,.09),(-16.8,.09),(-14.8,.10),(-12.8,.10),(-10.8,.11),(-9.2,.11),(-8.2,.11),(-7.2,.11),(-6.2,.13),(-5.2,.13),(-3.2,.15),(-1.2,.16),(0.8,.18),(2.8,.19),(4.8,.21),(6.8,.22),(8.8,.23),(12.8,.24),(16.8,.25),(20.8,.26),(24.8,.28),(28.8,.29),(32.8,.31),(34.8,.31),(36.5,.30)]
D_PURPLE = [(-22,.21),(-21.5,.17),(-21,.24),(-20.5,.19),(-20,.22),(-19.5,.18),(-19,.25),(-18.5,.20),(-18,.17),(-17,.28),(-16.5,.22),(-16,.26),(-15.5,.21),(-15,.29),(-14.5,.24),(-14,.20),(-13,.27),(-12.5,.23),(-12,.29),(-11,.25),(-10.5,.28),(-10,.24),(-9,.26),(-8,.23),(-7,.27),(-6,.25),(-5,.29),(-4,.26),(-3,.28),(-2,.25),(-1,.30),(0,.27),(1,.29),(2,.31),(3,.28),(4,.32),(5,.29),(6,.33),(7,.30),(8,.32),(9,.29),(10,.34),(11,.31),(12,.35),(13,.32),(14,.36),(15,.33),(16,.37),(17,.34),(18,.38),(19,.35),(20,.39),(21,.36),(22,.40),(23,.37),(24,.41),(25,.38),(26,.40),(27,.37),(28,.42),(29,.39),(30,.41),(31,.44),(32,.42),(33,.45),(34,.43),(35,.46),(36,.44),(37,.48),(38,.45),(38.5,.50),(39,.43),(39.5,.47),(40,.53),(40,.41),(40.5,.49),(41,.45),(41.5,.50),(42,.42),(42.5,.37),
            (-21.2,.20),(-19.2,.21),(-17.2,.23),(-15.2,.25),(-13.2,.25),(-11.2,.27),(-9.2,.27),(-7.2,.26),(-5.2,.27),(-3.2,.27),(-1.2,.28),(0.8,.28),(2.8,.30),(4.8,.31),(6.8,.31),(8.8,.32),(10.8,.33),(12.8,.34),(14.8,.35),(16.8,.36),(18.8,.37),(20.8,.38),(22.8,.38),(24.8,.39),(26.8,.39),(28.8,.40),(30.8,.42),(32.8,.43),(34.8,.44),(36.8,.45),(38.8,.47),(39.8,.46),(41.2,.47)]
D_LABELS = ["Anchor 1 αₐ: −42.28°, γ:88.94°", "Anchor 2 αₐ:46.59°, γ: −3.25°", "Anchor 3 αₐ:136.78°, ,γ:108.89°", "Anchor 4 αₐ: −131.50°, ,γ: −115.75°"]
D_XTICKS = [-40, -30, -20, -10, 0, 10, 20, 30, 40]
D_YTICKS = [-0.2, 0.0, 0.2, 0.4]

# ---------------- Panel (e): Sequence 5, range ----------------
E_RED = [(1.50,.10),(1.52,.14),(1.53,.09),(1.55,-.055),(1.56,.12),(1.58,.16),(1.60,.08),(1.62,.11),(1.65,.18),(1.68,.10),(1.70,.15),(1.73,.09),(1.75,.17),(1.78,.11),(1.80,.19),(1.83,.10),(1.86,.14),(1.90,.08),(1.93,.18),(1.96,.12),(2.00,.16),(2.05,.10),(2.10,.18),(2.15,.12),(2.20,.19),(2.25,.11),(2.30,.15),(2.35,.13),(2.40,.20),(2.45,.14),(2.50,.17),(2.55,.12),(2.60,.19),(2.65,.14),(2.70,.21),(2.75,.15),(2.80,.13),(2.85,.18),(2.90,.11),(2.95,.20),(3.00,.16),(3.05,.22),(3.10,.14),(3.15,.19),(3.20,.07),(3.25,.17),(3.28,-.03),(3.30,.13),(3.35,.20),(3.40,.15),(3.45,.10),(3.50,.18),(3.55,.22),(3.60,.16),(3.65,.24),(3.70,.19),(3.75,.14),(3.80,.22),(3.85,.17),(3.90,.25),(3.95,.20),(4.00,.23),(4.05,.18),(4.10,.26),(4.15,.21),(4.20,.29),(4.25,.19),(4.30,.25),(4.35,.15),(4.40,.27),(4.45,.22),(4.50,.18),(4.55,.24),(4.60,.20),(4.65,.16),(4.70,.10),(4.75,.22),(4.80,.19),(4.85,.25),(4.90,.17),(4.95,.23),(5.00,.20),(5.05,.26),(5.10,.22),(5.15,.28),(5.20,.24),(5.25,.30),(5.30,.21),(5.35,.27),(5.40,.23),(5.45,.29),(5.50,.25),(5.55,.22),(5.60,.28),(5.65,.24),(5.70,.30),(5.75,.26),(5.80,.22),(5.85,.28),(5.90,.24),(5.95,.20),(6.00,.26),(6.05,.19),(6.10,.23),(6.15,.18),(6.20,.25),(6.25,.21),
         (1.51,.13),(1.54,.11),(1.57,.09),(1.59,.13),(1.61,.17),(1.64,.12),(1.67,.14),(1.71,.12),(1.74,.13),(1.77,.08),(1.81,.12),(1.84,.16),(1.88,.11),(1.91,.13),(1.98,.09),(2.03,.13),(2.08,.15),(2.13,.09),(2.18,.14),(2.23,.16),(2.28,.12),(2.33,.18),(2.38,.10),(2.43,.17),(2.48,.12),(2.58,.15),(2.68,.11),(2.78,.17),(2.88,.15),(2.98,.13),(3.08,.18),(3.18,.12),(3.32,.17),(3.38,.12),(3.42,.19),(3.48,.14),(3.58,.19),(3.68,.21),(3.78,.18),(3.88,.21),(3.98,.17),(4.08,.22),(4.18,.24),(4.28,.21),(4.38,.23),(4.48,.20),(4.58,.26),(4.68,.18),(4.78,.25),(4.88,.21),(4.98,.24),(5.08,.19),(5.18,.25),(5.28,.26),(5.38,.19),(5.48,.27),(5.58,.24),(5.68,.21),(5.78,.29),(5.88,.25),(5.98,.23),(6.08,.25),(6.18,.22),(6.22,.20)]
E_GREEN = [(1.48,.18),(1.50,.22),(1.52,.16),(1.55,.25),(1.58,.20),(1.60,.27),(1.63,.18),(1.66,.23),(1.70,.16),(1.73,.20),(1.76,.14),(1.80,.18),(1.85,.22),(1.90,.15),(1.95,.26),(2.00,.19),(2.05,.24),(2.10,.17),(2.15,.22),(2.20,.14),(2.25,.25),(2.30,.19),(2.35,.27),(2.40,.21),(2.45,.16),(2.50,.24),(2.55,.19),(2.60,.26),(2.65,.17),(2.70,.22),(2.75,.15),(2.80,.25),(2.85,.20),(2.90,.18),(2.95,.23),(3.00,.08),(3.05,.21),(3.10,.16),(3.15,.24),(3.20,.13),(3.25,.19),(3.30,.12),(3.35,.17),(3.40,.22),(3.45,.14),(3.50,.20),(3.55,.25),(3.60,.18),(3.65,.28),(3.70,.22),(3.75,.19),(3.80,.26),(3.85,.21),(3.90,.16),(3.95,.24),(4.00,.19),(4.05,.27),(4.10,.22),(4.15,.17),(4.20,.25),(4.25,.20),(4.30,.28),(4.35,.15),(4.40,.23),(4.45,.19),(4.50,.26),(4.55,.21),(4.60,.17),(4.65,.24),(4.70,.20),(4.75,.28),(4.80,.23),(4.85,.30),(4.90,.25),(4.95,.21),(5.00,.29),(5.05,.24),(5.10,.32),(5.15,.27),(5.20,.22),(5.25,.30),(5.30,.25),(5.35,.34),(5.40,.28),(5.45,.23),(5.50,.31),(5.55,.26),(5.60,.21),(5.65,.29),(5.70,.24),(5.75,.12),(5.80,.27),(5.85,.22),(5.90,.18),(5.95,.25),(6.00,.20),(6.05,.27),(6.10,.22),(6.15,.17),(6.20,.24),(6.25,.28),
           (1.49,.21),(1.53,.19),(1.57,.23),(1.61,.21),(1.65,.26),(1.69,.19),(1.74,.23),(1.78,.16),(1.83,.20),(1.88,.24),(1.93,.18),(1.98,.22),(2.08,.20),(2.18,.25),(2.28,.17),(2.38,.23),(2.48,.20),(2.58,.22),(2.68,.25),(2.78,.19),(2.88,.24),(2.98,.20),(3.08,.18),(3.18,.22),(3.28,.15),(3.33,.13),(3.38,.16),(3.48,.18),(3.58,.22),(3.68,.20),(3.78,.23),(3.88,.19),(3.98,.21),(4.08,.18),(4.18,.22),(4.28,.17),(4.38,.25),(4.48,.18),(4.58,.23),(4.68,.27),(4.78,.21),(4.88,.27),(4.98,.23),(5.08,.27),(5.18,.30),(5.28,.28),(5.38,.25),(5.48,.27),(5.58,.30),(5.68,.26),(5.78,.23),(5.88,.25),(5.98,.22),(6.08,.24),(6.18,.26),(6.23,.20)]
E_BLUE = [(1.62,.26),(1.64,.30),(1.66,.34),(1.68,.28),(1.70,.37),(1.72,.31),(1.74,.35),(1.76,.26),(1.78,.32),(1.80,.24),(1.83,.29),(1.86,.23),(1.90,.27),(1.94,.22),(1.98,.26),(2.02,.21),(2.06,.30),(2.10,.24),(2.15,.28),(2.20,.19),(2.25,.32),(2.30,.26),(2.35,.30),(2.40,.22),(2.45,.33),(2.50,.27),(2.55,.31),(2.60,.23),(2.65,.29),(2.70,.20),(2.75,.26),(2.80,.30),(2.85,.22),(2.90,.27),(2.95,.19),(3.00,.24),(3.05,.28),(3.10,.20),(3.15,.25),(3.20,.18),(3.25,.22),(3.30,.15),(3.35,.20),(3.40,.26),(3.45,.17),(3.50,.23),(3.55,.29),(3.60,.21),(3.65,.27),(3.70,.19),(3.75,.30),(3.80,.24),(3.85,.18),(3.90,.28),(3.95,.22),(4.00,.27),(4.05,.20),(4.10,.30),(4.15,.25),(4.20,.21),(4.25,.32),(4.30,.26),(4.35,.22),(4.40,.29),(4.45,.24),(4.50,.31),(4.55,.25),(4.60,.21),(4.65,.28),(4.70,.23),(4.75,.30),(4.80,.26),(4.85,.32),(4.90,.27),(4.95,.35),(5.00,.29),(5.05,.24),(5.10,.37),(5.15,.31),(5.20,.39),(5.25,.26),(5.30,.33),(5.35,.22),(5.40,.29),(5.45,.35),(5.50,.39),(5.55,.27),(5.60,.33),(5.65,.24),(5.70,.31),(5.75,.37),(5.80,.38),(5.85,.26),(5.90,.21),(5.95,.17),(6.00,.24),(6.05,.15),(6.10,.22),(6.15,.28),(6.20,.19),(6.25,.33),(6.30,.30),
          (1.63,.33),(1.65,.27),(1.67,.31),(1.69,.25),(1.71,.34),(1.73,.29),(1.77,.30),(1.81,.27),(1.85,.25),(1.92,.24),(2.00,.28),(2.08,.22),(2.18,.27),(2.28,.24),(2.38,.28),(2.48,.25),(2.58,.28),(2.68,.24),(2.78,.22),(2.88,.25),(2.98,.21),(3.08,.23),(3.18,.21),(3.28,.19),(3.32,.24),(3.38,.17),(3.48,.20),(3.58,.25),(3.68,.23),(3.78,.27),(3.88,.24),(3.98,.25),(4.08,.24),(4.18,.28),(4.28,.23),(4.38,.27),(4.48,.26),(4.58,.29),(4.68,.25),(4.78,.28),(4.88,.29),(4.98,.31),(5.08,.33),(5.18,.28),(5.28,.30),(5.38,.33),(5.48,.27),(5.58,.30),(5.68,.28),(5.78,.25),(5.88,.22),(5.98,.20),(6.08,.19),(6.18,.24),(6.22,.21)]
E_PURPLE = [(1.76,.30),(1.78,.34),(1.80,.29),(1.82,.37),(1.84,.33),(1.86,.40),(1.88,.35),(1.90,.42),(1.92,.46),(1.93,.44),(1.95,.31),(1.98,.38),(2.00,.28),(2.03,.35),(2.06,.41),(2.10,.30),(2.14,.36),(2.18,.26),(2.22,.33),(2.26,.38),(2.30,.29),(2.35,.35),(2.40,.25),(2.45,.39),(2.50,.31),(2.55,.36),(2.60,.27),(2.65,.33),(2.70,.24),(2.75,.31),(2.80,.28),(2.85,.34),(2.90,.23),(2.95,.30),(3.00,.26),(3.05,.21),(3.10,.28),(3.15,.18),(3.20,.25),(3.25,.20),(3.30,.16),(3.33,.22),(3.35,.35),(3.38,.18),(3.40,.26),(3.45,.21),(3.50,.29),(3.55,.17),(3.60,.24),(3.65,.31),(3.70,.20),(3.75,.35),(3.80,.27),(3.85,.22),(3.90,.30),(3.95,.16),(4.00,.25),(4.05,.29),(4.10,.19),(4.15,.27),(4.20,.33),(4.25,.23),(4.30,.30),(4.35,.18),(4.40,.26),(4.45,.15),(4.50,.22),(4.55,.17),(4.60,.28),(4.65,.19),(4.70,.25),(4.75,.30),(4.80,.23),(4.85,.33),(4.90,.27),(4.95,.32),(5.00,.24),(5.03,.07),(5.05,.30),(5.10,.19),(5.15,.27),(5.20,.13),(5.25,.34),(5.30,.22),(5.35,.29),(5.40,.17),(5.45,.25),(5.50,.31),(5.55,.20),(5.60,.34),(5.65,.26),(5.70,.38),(5.75,.23),(5.80,.30),(5.85,.18),(5.90,.27),(5.95,.15),(6.00,.40),(6.02,.22),(6.05,.14),(6.10,.26),(6.15,.19),(6.20,.30),(6.25,.24),(6.32,.33),
            (1.79,.31),(1.81,.35),(1.83,.30),(1.85,.38),(1.87,.32),(1.89,.36),(1.91,.39),(1.97,.34),(2.01,.32),(2.08,.33),(2.16,.31),(2.24,.35),(2.32,.32),(2.42,.30),(2.52,.34),(2.62,.30),(2.72,.29),(2.82,.31),(2.92,.27),(3.02,.29),(3.12,.24),(3.22,.22),(3.28,.19),(3.31,.24),(3.34,.27),(3.36,.20),(3.42,.23),(3.52,.25),(3.62,.27),(3.72,.25),(3.82,.30),(3.92,.24),(4.02,.22),(4.12,.26),(4.22,.28),(4.32,.22),(4.42,.29),(4.52,.25),(4.62,.20),(4.72,.22),(4.82,.26),(4.92,.29),(5.02,.28),(5.12,.31),(5.22,.26),(5.32,.31),(5.42,.28),(5.52,.26),(5.62,.29),(5.72,.32),(5.82,.26),(5.92,.23),(6.04,.20),(6.12,.18),(6.18,.21),(6.24,.19)]
E_LABELS = ["Anchor 1 βₐ:3.04°", "Anchor 2 βₐ:6.93°", "Anchor 3 βₐ:10.40°", "Anchor 4 βₐ:13.32°"]
E_XTICKS = [2, 3, 4, 5, 6]
E_YTICKS = [0.0, 0.2, 0.4]

# ---------------- Panel (f): Sequence 6, elevation angle T ----------------
F_RED = [(-25,.49),(-24.8,.46),(-24.5,.50),(-24.2,.47),(-24,.52),(-23.8,.44),(-23.5,.48),(-23.2,.45),(-23,.49),(-22.5,.44),(-22,.46),(-21.5,.42),(-21,.45),(-20.5,.41),(-20,.43),(-19.5,.40),(-19,.44),(-18.5,.41),(-18,.43),(-17.5,.39),(-17,.42),(-16.5,.40),(-16,.38),(-15.5,.44),(-15,.41),(-14.5,.50),(-14,.45),(-13.5,.42),(-13,.51),(-12.5,.47),(-12,.43),(-11.5,.46),(-11,.40),(-10.5,.50),(-10,.44),(-9.5,.38),(-9,.47),(-8.5,-.06),(-8.5,.35),(-8,.42),(-7.5,.30),(-7,.38),(-6.5,.28),(-6,.40),(-5.5,.33),(-5,.25),(-4.5,.37),(-4,.30),(-3.5,.22),(-3,.34),(-2.5,.28),(-2,.36),(-1.5,.24),(-1,.32),(-0.5,.27),(0,.30),(0,-.26),(0.3,.20),(0.5,.35),(0.7,.45),(0.8,.62),(1,.67),(1,.52),(1.2,.40),(1.5,.28),(1.8,.33),(2,.26),(2.3,.36),(2.5,.30),(2.8,.68),(2.8,.60),(2.9,.50),(2.9,.42),(3,.20),(3,.10),(3,.38),(3.2,.33),(3.5,.30),(3.8,.36),(4,.28),(4.3,.33),(4.6,.29),(5,.34),(5.3,.27),(5.6,.31),(6,.26),(6.3,.29),(6.6,.24),(7,.27),(8,.25),(9,.22),(10,.24),(11,.26),(12,.25),(13.5,.30),(14.5,.27),(15.5,.25),(16.5,.23),(17,.15),(17,.12),(17,.20),
         (-9.8,.42),(-7.8,.36),(-5.8,.34),(-3.8,.32),(-1.8,.30),(0.2,.28),(1.2,.31),(1.6,.33),(2.2,.30),(3.6,.34),(4.2,.31),(4.8,.30),(5.8,.28),(6.8,.27)]
F_GREEN = [(-20.5,.18),(-20,.22),(-19.5,.15),(-19,.20),(-18.5,.24),(-18,.17),(-17.5,.21),(-17,.14),(-16.5,.19),(-16,.23),(-15.5,.16),(-15,.22),(-14.5,.28),(-14,.18),(-13.5,.35),(-13,.25),(-12.5,.40),(-12,.15),(-11.5,.30),(-11,.10),(-10.5,.22),(-10,.57),(-10,.05),(-9.5,.18),(-9,.08),(-8.5,.25),(-8,.12),(-7.5,.02),(-7,.20),(-6.5,.10),(-6,.16),(-5.5,.0),(-5,.22),(-4.5,.13),(-4,.08),(-3.5,-.05),(-3,.18),(-3,-.03),(-2.5,.25),(-2,-.08),(-2,.10),(-1.5,.20),(-1,.05),(-1,.30),(-0.5,-.10),(0,.15),(0,.57),(0.3,.40),(0.5,-.18),(0.5,-.12),(0.6,.05),(0.7,.30),(0.8,.45),(1,.18),(1,.50),(1.2,.25),(1.5,.35),(1.8,.20),(2,.32),(2.5,.38),(3,.35),(3.5,.33),(4.5,.40),(5,.30),(7.5,.36),(9,.30),(9.5,.22),(10.5,.20),(12,.20),(12.5,.25),
           (-13.2,.28),(-12.2,.22),(-11.2,.18),(-9.2,.14),(-8.2,.06),(-7.2,.14),(-6.2,.08),(-5.2,.16),(-4.2,.02),(-3.8,.12),(-2.8,.08),(-1.8,.15),(-1.2,.0),(-0.2,.20),(0.9,.28),(1.4,.22)]
F_BLUE = [(-23,.29),(-22.5,.27),(-22,.30),(-21.5,.26),(-21,.28),(-20,.25),(-19.5,.30),(-19,.23),(-18.5,.27),(-18,.21),(-17.5,.26),(-17,.24),(-16.5,.29),(-16,.22),(-15.5,.27),(-15,.25),(-14.5,.20),(-14,.28),(-13.5,.23),(-13,.31),(-12.5,.21),(-12,.27),(-11.5,.19),(-11,.30),(-10.5,.24),(-10,.33),(-9.5,.22),(-9,.28),(-8.5,.18),(-8,.31),(-7.5,.25),(-7,.40),(-7,.20),(-6.5,.29),(-6,.23),(-5.5,.32),(-5,.17),(-4.5,.26),(-4,.13),(-4,.22),(-3.5,.19),(-3,.10),(-3,.24),(-2.5,.16),(-2.5,.21),(-2,.12),(-2,.19),(-1.5,.23),(-1.5,.15),(-1,.08),(-1,.18),(-0.5,.14),(0,.21),(0.5,.17),(1,.19),(2,.17),(3,.16),(4,.18),(5,.17),(6,.15),(7,.17),(8,.15),(9,.16),(10.5,.10),(10.5,.15),(10.5,.18),
          (-10.8,.26),(-10.2,.29),(-9.8,.25),(-9.2,.31),(-8.8,.27),(-8.2,.24),(-7.8,.29),(-6.8,.26),(-5.8,.24),(-4.8,.21),(-3.8,.17),(-3.2,.15),(-2.8,.20),(-2.2,.17),(-1.8,.14),(-1.2,.20),(-0.8,.16),(-0.3,.12),(-2.6,.23),(-1.6,.11)]
F_PURPLE = [(-35.8,.29),(-35.5,.35),(-35.3,.27),(-35,.31),(-34.8,.51),(-34.5,.23),(-34,.47),(-33.8,.42),(-33.5,.55),(-33,.22),(-32.5,.60),(-32,.20),(-31.8,.61),(-31,.73),(-30.8,.72),(-30.5,.25),(-30.2,.28),(-30,.83),(-29.8,.63),(-29,.41),(-29,.25),(-28.2,.04),(-28,.01),(-27.5,.06),(-27,.73),(-27,.03),(-26.5,.09),(-26.5,.57),(-26.2,.05),(-26,-.02),(-25.8,.06),(-25.5,.03),(-25.5,.56),(-25,.57),(-24.5,.33),(-22.5,.78),(-21.5,.77),(-21,.42),(-20.5,.36),(-20,.50),(-19.5,.90),(-19.5,.42),(-19,.35),(-18.5,.28),(-18,.40),(-18,.22),(-17.5,.15),(-17,.12),(-17,.32),(-16.5,.25),(-16,.20),(-15.5,.30),(-15,.23),(-14.5,.28),(-14,.61),(-14,.20),(-13.5,.30),(-13,.25),(-12.5,.33),(-12,.22),(-11.5,.28),(-11,.19),(-10.5,.26),(-10,.32),(-9.5,.23),(-9,.29),(-8.5,.35),(-8,.27),(-7.5,.31),(-7,.24),(-6.5,.34),(-6,.28),(-6,.37),(-5.5,.50),(-5.5,.25),(-5,.31),(-4.5,.22),(-4.5,.30),(-4,.27),(-3.5,.18),(-3.5,.25),(-3,.21),(-3,.28),(9.2,.20),(9.3,.25),(9.2,.23),
            (-12.8,.28),(-11.8,.31),(-10.8,.24),(-9.8,.28),(-8.8,.31),(-7.8,.33),(-6.8,.30),(-6.2,.33),(-5.8,.29),(-4.8,.27),(-3.8,.23),(-9.2,.25),(-8.2,.30),(-7.2,.28)]
F_LABELS = ["Anchor 1 γ:56.23°", "Anchor 2 γ: −55.79°", "Anchor 3 γ:132.29°", "Anchor 4 γ: −136.26°"]
F_XTICKS = [-30, -20, -10, 0, 10]
F_YTICKS = [-0.2, 0.0, 0.2, 0.4, 0.6, 0.8]

COLORS = ["red", "green", "blue", "purple"]
FONT = "DejaVu Sans"
AXIS_GRAY = "#8c8c8c"
FRAME_H = 253
ROW_ABOVE = [35, 40, 40]
ROW_BELOW = [44, 44, 44]
# column geometry: (min border left, frame width, min border right, tag right edge on canvas)
COL_GEOM = [(65, 539, 16, 59), (90, 516, 2, 77)]


def fmt(decimals):
    return CustomJSTickFormatter(code="return tick.toFixed(%d).replace('-', '\u2212');" % decimals)


def panel(tag, title, series, labels, xr, yr, xticks, yticks, xdec, ydec, xlabel, col, row):
    left, fw, right, tag_x = COL_GEOM[col]
    p = figure(frame_width=fw, frame_height=FRAME_H,
               x_range=Range1d(*xr), y_range=Range1d(*yr),
               output_backend="svg", toolbar_location=None,
               min_border_left=left, min_border_right=right,
               min_border_top=ROW_ABOVE[row], min_border_bottom=ROW_BELOW[row])
    p.title.text = title
    p.title.text_font = FONT
    p.title.text_font_size = "23px"
    p.title.text_font_style = "normal"
    p.title.text_color = "black"
    p.title.align = "center"
    p.title.standoff = 5
    p.grid.visible = False
    p.outline_line_color = AXIS_GRAY
    p.background_fill_color = "white"
    p.border_fill_color = "white"

    for ax in (p.xaxis[0], p.yaxis[0]):
        ax.major_label_text_font = FONT
        ax.major_label_text_font_size = "16px"
        ax.major_label_text_color = "black"
        ax.axis_label_text_font = FONT
        ax.axis_label_text_font_size = "16px"
        ax.axis_label_text_font_style = "normal"
        ax.axis_label_text_color = "black"
        ax.major_tick_in = 0
        ax.major_tick_out = 4
        ax.minor_tick_in = 0
        ax.minor_tick_out = 0
        ax.major_label_standoff = 1
        ax.axis_label_standoff = 0
        ax.axis_line_color = AXIS_GRAY
        ax.major_tick_line_color = "#333333"
    p.xaxis.ticker = FixedTicker(ticks=xticks)
    p.yaxis.ticker = FixedTicker(ticks=yticks)
    p.xaxis.formatter = fmt(xdec)
    p.yaxis.formatter = fmt(ydec)
    p.xaxis.axis_label = xlabel
    p.yaxis.axis_label = "Bias [m]"

    items = []
    for pts, color, lab in zip(series, COLORS, labels):
        r = p.scatter([q[0] for q in pts], [q[1] for q in pts], size=4,
                      color=color, marker="circle")
        items.append(LegendItem(label=lab, renderers=[r]))
    legend = Legend(items=items, location="bottom_right",
                    label_text_font=FONT, label_text_font_size="11px",
                    label_text_color="black",
                    glyph_width=22, glyph_height=13, label_height=13,
                    spacing=4, padding=4, label_standoff=9, margin=4,
                    border_line_color="#cccccc", border_line_width=1,
                    background_fill_color="white", background_fill_alpha=0.85)
    p.add_layout(legend)

    # panel tag: lives in a side panel (not clipped by the frame), positioned
    # in canvas pixels at the top-left corner of the figure
    tag_label = Label(x=tag_x, y=max(0, ROW_ABOVE[row] - 37),
                      x_units="canvas", y_units="canvas",
                      text=tag, text_font="Liberation Serif", text_font_size="24px",
                      text_color="black", text_align="right", text_baseline="top")
    p.add_layout(tag_label, "right" if col == 0 else "left")
    return p


pa = panel("(a)", "Sequence 1 Azimuth Anlge bias pattern",
           [A_RED, A_GREEN, A_BLUE, A_PURPLE], A_LABELS,
           (-199, 199), (-0.6, 1.0), A_XTICKS, A_YTICKS, 0, 1,
           "Azimuth Angle α°ₐ", 0, 0)
pb = panel("(b)", "Sequence 2 Azimuth Anlge bias pattern",
           [B_RED, B_GREEN, B_BLUE, B_PURPLE], B_LABELS,
           (-78, 76.3), (-0.159, 0.714), B_XTICKS, B_YTICKS, 0, 1,
           "Azimuth Angle α°ₜ", 1, 0)
pc = panel("(c)", "Sequence 3 Difference Anlge bias pattern",
           [C_RED, C_GREEN, C_BLUE, C_PURPLE], C_LABELS,
           (-199, 199), (-0.326, 0.827), C_XTICKS, C_YTICKS, 0, 1,
           "Difference Angle γ°", 0, 1)
pd = panel("(d)", "Sequence 4 Elevation Anlge bias pattern",
           [D_RED, D_GREEN, D_BLUE, D_PURPLE], D_LABELS,
           (-42.3, 46), (-0.312, 0.596), D_XTICKS, D_YTICKS, 0, 1,
           "Elevation Angle β°ₐ", 1, 1)
pe = panel("(e)", "Sequence 5 Range bias pattern",
           [E_RED, E_GREEN, E_BLUE, E_PURPLE], E_LABELS,
           (1.2, 6.58), (-0.088, 0.497), E_XTICKS, E_YTICKS, 0, 1,
           "UWB ranging measurement d̃", 0, 2)
pf = panel("(f)", "Sequence 6 Elevation Anlge bias pattern",
           [F_RED, F_GREEN, F_BLUE, F_PURPLE], F_LABELS,
           (-38.8, 19.4), (-0.318, 0.963), F_XTICKS, F_YTICKS, 0, 1,
           "Elevation Angle β°ₜ", 1, 2)

grid = gridplot([[pa, pb], [pc, pd], [pe, pf]], toolbar_location=None)

open("out.html", "w").write(file_html(grid, INLINE))
